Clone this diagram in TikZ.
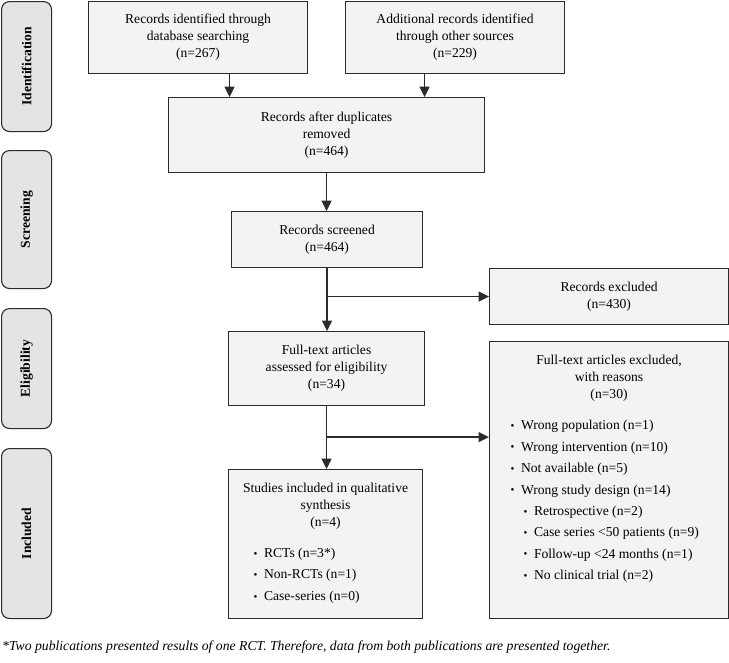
\documentclass[tikz,border=0pt]{standalone}
\usepackage{fontspec}
\usepackage{graphicx}
\setmainfont{Liberation Serif}
\usetikzlibrary{arrows.meta}

\definecolor{boxfill}{HTML}{F3F3F3}
\definecolor{phasefill}{HTML}{E4E4E4}
\definecolor{edgecol}{HTML}{2B2B2B}

% bullet item of a list
\newcommand{\itm}[1]{\makebox[10.5pt][l]{\raisebox{0.3pt}{\fontsize{11}{11}\selectfont\textbullet}}#1\par}

\begin{document}
\begin{tikzpicture}[x=1pt,y=-1pt,
    box/.style={draw=edgecol, line width=1.1pt, fill=boxfill, anchor=north west,
      align=center, inner sep=0pt, font=\fontsize{13.6}{17}\selectfont},
    listbox/.style={draw=edgecol, line width=1.1pt, fill=boxfill, anchor=north west,
      inner sep=0pt, font=\fontsize{13.6}{17}\selectfont},
    phase/.style={draw=edgecol, line width=1.1pt, fill=phasefill, rounded corners=8pt,
      anchor=north west, minimum width=50pt, inner sep=0pt,
      font=\bfseries\fontsize{13.6}{16}\selectfont},
    arr/.style={draw=edgecol, line width=1.4pt, -{Triangle[length=10.5pt,width=10pt]}}]

  % Page frame
  \useasboundingbox (0,0) rectangle (729,662);

  % Phases on the left
  \node[phase, minimum height=130pt] (pid)  at (1,1)   {\rotatebox{90}{Identification}};
  \node[phase, minimum height=138pt] (pscr) at (1,150) {\rotatebox{90}{Screening}};
  \node[phase, minimum height=120pt] (pel)  at (1,308) {\rotatebox{90}{Eligibility}};
  \node[phase, minimum height=170pt] (pinc) at (1,448) {\rotatebox{90}{Included}};

  % Identification
  \node[box, minimum width=219pt, minimum height=72pt] (idb) at (88,1)
    {Records identified through\\database searching\\(n=267)};
  \node[box, minimum width=219pt, minimum height=72pt] (oth) at (345,1)
    {Additional records identified\\through other sources\\(n=229)};
  \node[box, minimum width=316pt, minimum height=75pt] (dup) at (168,97)
    {Records after duplicates\\removed\\(n=464)};

  % Screening
  \node[box, minimum width=191pt, minimum height=56pt] (scr) at (231,211)
    {Records screened\\(n=464)};
  \node[box, minimum width=239pt, minimum height=56pt] (excl) at (489,268)
    {Records excluded\\(n=430)};

  % Eligibility
  \node[box, minimum width=196pt, minimum height=74pt] (full) at (228,331)
    {Full-text articles\\assessed for eligibility\\(n=34)};
  \node[listbox] (reas) at (489,341) {%
    \begin{minipage}[t][277pt][t]{239pt}
      \vspace*{14pt}
      \centering Full-text articles excluded,\\with reasons\\(n=30)\par
      \vspace{9.5pt}
      \raggedright\fontsize{13.6}{21.4}\selectfont
      \hspace*{21pt}\itm{Wrong population (n=1)}
      \hspace*{21pt}\itm{Wrong intervention (n=10)}
      \hspace*{21pt}\itm{Not available (n=5)}
      \hspace*{21pt}\itm{Wrong study design (n=14)}
      \hspace*{34pt}\itm{Retrospective (n=2)}
      \hspace*{34pt}\itm{Case series <50 patients (n=9)}
      \hspace*{34pt}\itm{Follow-up <24 months (n=1)}
      \hspace*{34pt}\itm{No clinical trial (n=2)}
    \end{minipage}};

  % Included
  \node[listbox] (incl) at (228,469) {%
    \begin{minipage}[t][149pt][t]{194pt}
      \vspace*{14pt}
      \centering Studies included in qualitative\\synthesis\\(n=4)\par
      \vspace{9pt}
      \raggedright\fontsize{13.6}{21.5}\selectfont
      \hspace*{25pt}\itm{RCTs (n=3*)}
      \hspace*{25pt}\itm{Non-RCTs (n=1)}
      \hspace*{25pt}\itm{Case-series (n=0)}
    \end{minipage}};

  % Connectors
  \coordinate (a1) at ([xshift=31.5pt]idb.south);
  \coordinate (a2) at ([xshift=-30.5pt]oth.south);
  \draw[arr] (a1) -- (a1 |- dup.north);
  \draw[arr] (a2) -- (a2 |- dup.north);
  \draw[arr] (dup.south) -- (dup.south |- scr.north);
  \draw[arr] (scr.south) -- (scr.south |- full.north);
  \coordinate (b1) at (scr.south |- excl.west);
  \draw[arr] (b1) -- (excl.west);
  \draw[arr] (full.south) -- (full.south |- incl.north);
  \coordinate (b2) at ([yshift=-31pt]full.south);
  \draw[arr] (b2) -- (b2 -| reas.west);

  % Footnote
  \node[anchor=base west, inner sep=0pt, font=\itshape\fontsize{13.7}{16}\selectfont] (note) at (2,650)
    {*Two publications presented results of one RCT. Therefore, data from both publications are presented together.};
\end{tikzpicture}
\end{document}
